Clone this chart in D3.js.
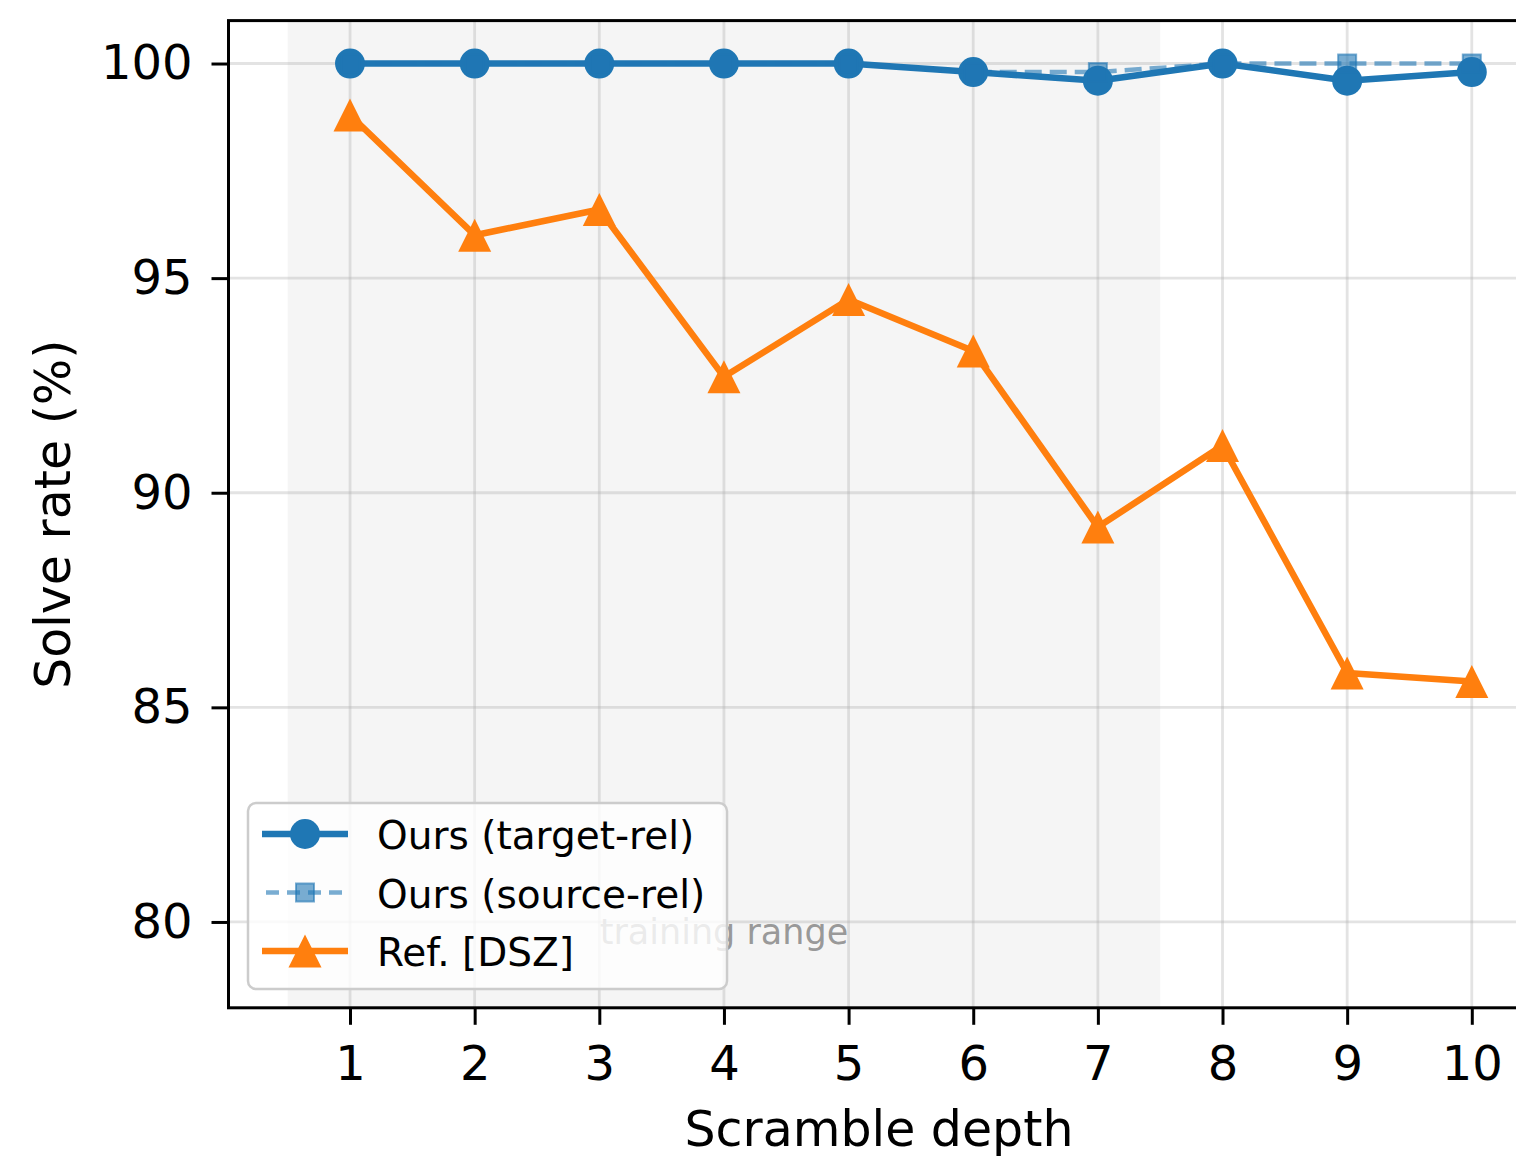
<!DOCTYPE html>
<html>
<head>
<meta charset="utf-8">
<script src="https://cdn.jsdelivr.net/npm/d3@7"></script>
<style>
  html, body { margin: 0; padding: 0; background: #ffffff; }
  svg { display: block; }
  text { font-family: "DejaVu Sans", sans-serif; fill: #000; }
</style>
</head>
<body>
<svg id="chart" width="1516" height="1159"></svg>
<script>
// Scramble depths evaluated
const depths = [1, 2, 3, 4, 5, 6, 7, 8, 9, 10];
// Solve rates (%) per method
const oursTargetRel = [100, 100, 100, 100, 100, 99.8, 99.6, 100, 99.6, 99.8];
const oursSourceRel = [100, 100, 100, 100, 100, 99.8, 99.8, 100, 100, 100];
const refDSZ = [98.8, 96.0, 96.6, 92.7, 94.5, 93.3, 89.2, 91.1, 85.8, 85.6];
// Axis ticks
const xTicks = [1, 2, 3, 4, 5, 6, 7, 8, 9, 10];
const yTicks = [80, 85, 90, 95, 100];
// Depths the model was trained on
const trainingSpan = [0.5, 7.5];
const seriesNames = ["Ours (target-rel)", "Ours (source-rel)", "Ref. [DSZ]"];

const svg = d3.select("#chart");
const plot = { left: 228.5, right: 1531, top: 20.6, bottom: 1007.8 };

const x = d3.scaleLinear().domain([0.025, 10.475]).range([plot.left, plot.right]);
const y = d3.scaleLinear().domain([78, 101]).range([plot.bottom, plot.top]);

const blue = "#1f77b4", orange = "#ff7f0e";

// Clip marks to the axes box
svg.append("defs").append("clipPath").attr("id", "plotClip")
  .append("rect").attr("x", plot.left).attr("y", plot.top)
  .attr("width", plot.right - plot.left).attr("height", plot.bottom - plot.top);

const body = svg.append("g").attr("clip-path", "url(#plotClip)");

// Shaded training range
body.append("rect")
  .attr("x", x(trainingSpan[0])).attr("y", plot.top)
  .attr("width", x(trainingSpan[1]) - x(trainingSpan[0]))
  .attr("height", plot.bottom - plot.top)
  .attr("fill", "#808080").attr("fill-opacity", 0.08);

// Grid
const grid = body.append("g");
grid.selectAll("line.gx").data(xTicks).join("line")
  .attr("x1", d => x(d)).attr("x2", d => x(d))
  .attr("y1", plot.top).attr("y2", plot.bottom)
  .attr("stroke", "#b0b0b0").attr("stroke-opacity", 0.35).attr("stroke-width", 2.8);
grid.selectAll("line.gy").data(yTicks).join("line")
  .attr("x1", plot.left).attr("x2", plot.right)
  .attr("y1", d => y(d)).attr("y2", d => y(d))
  .attr("stroke", "#b0b0b0").attr("stroke-opacity", 0.35).attr("stroke-width", 2.8);

// Training range label
body.append("text")
  .attr("x", x(4)).attr("y", 944)
  .attr("text-anchor", "middle")
  .attr("font-size", 35)
  .style("fill", "#808080").style("fill-opacity", 0.8)
  .text("training range");

const line = d3.line().x(d => x(d[0])).y(d => y(d[1]));
const pts = vals => depths.map((d, i) => [d, vals[i]]);

// Marker shapes
const circleMarker = (g, r, color, opacity) =>
  g.append("circle").attr("r", r).attr("fill", color).attr("fill-opacity", opacity);
const squareMarker = (g, s, color, opacity) =>
  g.append("rect").attr("x", -s / 2).attr("y", -s / 2).attr("width", s).attr("height", s)
    .attr("fill", color).attr("fill-opacity", opacity)
    .attr("stroke", color).attr("stroke-opacity", opacity).attr("stroke-width", 2);
const triangleMarker = (g, s, color, opacity) =>
  g.append("path").attr("d", `M0,${-s / 2}L${s / 2},${s / 2}L${-s / 2},${s / 2}Z`)
    .attr("fill", color).attr("fill-opacity", opacity);

const series = [
  { name: seriesNames[0], values: oursTargetRel, color: blue, width: 6.5, dash: null, opacity: 1,
    marker: g => circleMarker(g, 15, blue, 1) },
  { name: seriesNames[1], values: oursSourceRel, color: blue, width: 4.5, dash: "17,8", opacity: 0.6,
    marker: g => squareMarker(g, 18, blue, 0.6) },
  { name: seriesNames[2], values: refDSZ, color: orange, width: 6.5, dash: null, opacity: 1,
    marker: g => triangleMarker(g, 33, orange, 1) }
];

series.forEach(s => {
  const g = body.append("g");
  g.append("path").attr("d", line(pts(s.values)))
    .attr("fill", "none").attr("stroke", s.color).attr("stroke-width", s.width)
    .attr("stroke-opacity", s.opacity)
    .attr("stroke-dasharray", s.dash).attr("stroke-linejoin", "round");
  pts(s.values).forEach(p => {
    const m = g.append("g").attr("transform", `translate(${x(p[0])},${y(p[1])})`);
    s.marker(m);
  });
});

// Axes
const xAxis = d3.axisBottom(x).tickValues(xTicks).tickSize(17).tickPadding(21).tickFormat(d3.format("d"));
const yAxis = d3.axisLeft(y).tickValues(yTicks).tickSize(17).tickPadding(19).tickFormat(d3.format("d"));

const gx = svg.append("g").attr("transform", `translate(0,${plot.bottom})`).call(xAxis);
const gy = svg.append("g").attr("transform", `translate(${plot.left},0)`).call(yAxis);
[gx, gy].forEach(g => {
  g.select(".domain").remove();
  g.selectAll(".tick line").attr("stroke", "#000").attr("stroke-width", 3);
  g.selectAll(".tick text").attr("font-size", 48).style("font-family", "DejaVu Sans").style("fill", "#000");
});

// Spines
svg.append("rect")
  .attr("x", plot.left).attr("y", plot.top)
  .attr("width", plot.right - plot.left).attr("height", plot.bottom - plot.top)
  .attr("fill", "none").attr("stroke", "#000").attr("stroke-width", 3);

// Axis titles
svg.append("text").attr("x", 879).attr("y", 1146)
  .attr("text-anchor", "middle").attr("font-size", 49).text("Scramble depth");
svg.append("text")
  .attr("transform", `translate(70,${(plot.top + plot.bottom) / 2}) rotate(-90)`)
  .attr("text-anchor", "middle").attr("font-size", 49).text("Solve rate (%)");

// Legend
const legend = svg.append("g");
legend.append("rect")
  .attr("x", 248).attr("y", 803).attr("width", 479).attr("height", 186)
  .attr("rx", 8).attr("ry", 8)
  .attr("fill", "#ffffff").attr("fill-opacity", 0.8)
  .attr("stroke", "#cccccc").attr("stroke-width", 2.5);
series.forEach((s, i) => {
  const cy = 834 + i * 58.5;
  const row = legend.append("g");
  row.append("line").attr("x1", 262).attr("x2", 348).attr("y1", cy).attr("y2", cy)
    .attr("stroke", s.color).attr("stroke-width", s.width).attr("stroke-opacity", s.opacity)
    .attr("stroke-dasharray", s.dash ? "13,8" : null)
    .attr("stroke-dashoffset", s.dash ? -4 : null);
  const m = row.append("g").attr("transform", `translate(305,${cy})`);
  s.marker(m);
  row.append("text").attr("x", 377).attr("y", cy + 15).attr("font-size", 39).text(s.name);
});
</script>
</body>
</html>
